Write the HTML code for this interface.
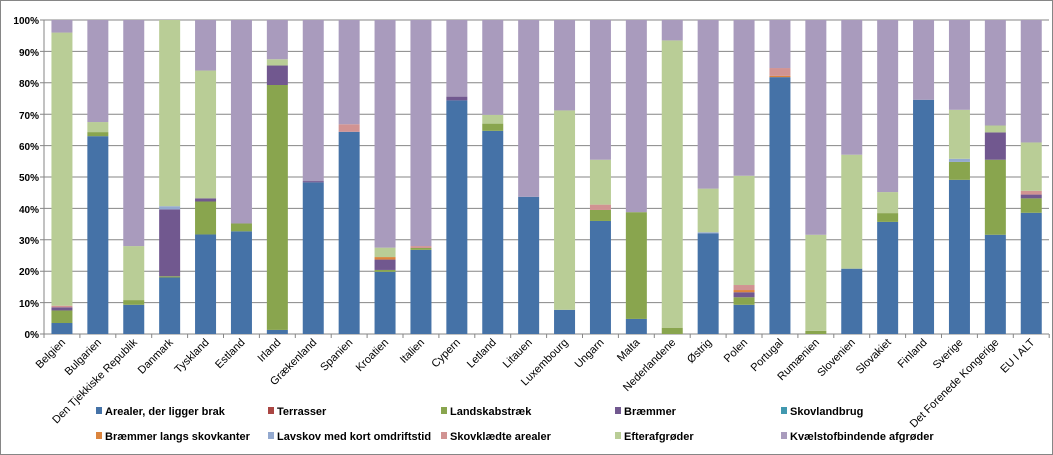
<!DOCTYPE html>
<html><head><meta charset="utf-8"><style>
body{margin:0;background:#fff}
svg{display:block}
text{font-family:"Liberation Sans",sans-serif}
</style></head><body>
<svg id="s" width="1053" height="455" xmlns="http://www.w3.org/2000/svg">
<rect x="0.5" y="0.5" width="1052" height="454" fill="#fff" stroke="#868686"/>
<g id="grid"></g>
<g id="bars"></g>
<g font-size="10" font-weight="bold" fill="#000" text-anchor="end">
<text x="39" y="338">0%</text><text x="39" y="307">10%</text><text x="39" y="275">20%</text><text x="39" y="244">30%</text><text x="39" y="213">40%</text><text x="39" y="181">50%</text><text x="39" y="150">60%</text><text x="39" y="119">70%</text><text x="39" y="87">80%</text><text x="39" y="56">90%</text><text x="39" y="24">100%</text>
</g>
<g id="cats" font-size="11" fill="#000" text-anchor="end">
<text>Belgien</text><text>Bulgarien</text><text>Den Tjekkiske Republik</text><text>Danmark</text><text>Tyskland</text><text>Estland</text><text>Irland</text><text>Grækenland</text><text>Spanien</text><text>Kroatien</text><text>Italien</text><text>Cypern</text><text>Letland</text><text>Litauen</text><text>Luxembourg</text><text>Ungarn</text><text>Malta</text><text>Nederlandene</text><text>Østrig</text><text>Polen</text><text>Portugal</text><text>Rumænien</text><text>Slovenien</text><text>Slovakiet</text><text>Finland</text><text>Sverige</text><text>Det Forenede Kongerige</text><text>EU I ALT</text>
</g>
<g font-size="11" font-weight="bold" fill="#000">
<rect x="96" y="407" width="6" height="7" fill="#4572A7"/><text x="105" y="415">Arealer, der ligger brak</text>
<rect x="268" y="407" width="6" height="7" fill="#AA4643"/><text x="277" y="415">Terrasser</text>
<rect x="441" y="407" width="6" height="7" fill="#89A54E"/><text x="450" y="415">Landskabstræk</text>
<rect x="615" y="407" width="6" height="7" fill="#71588F"/><text x="624" y="415">Bræmmer</text>
<rect x="781" y="407" width="6" height="7" fill="#4198AF"/><text x="790" y="415">Skovlandbrug</text>
<rect x="96" y="432" width="6" height="7" fill="#DB843D"/><text x="105" y="440">Bræmmer langs skovkanter</text>
<rect x="268" y="432" width="6" height="7" fill="#93A9CF"/><text x="277" y="440">Lavskov med kort omdriftstid</text>
<rect x="441" y="432" width="6" height="7" fill="#D19392"/><text x="450" y="440">Skovklædte arealer</text>
<rect x="615" y="432" width="6" height="7" fill="#B9CD96"/><text x="624" y="440">Efterafgrøder</text>
<rect x="781" y="432" width="6" height="7" fill="#A99BBD"/><text x="790" y="440">Kvælstofbindende afgrøder</text>
</g>
</svg>
<script>
var C=["#4572A7","#AA4643","#89A54E","#71588F","#4198AF","#DB843D","#93A9CF","#D19392","#B9CD96","#A99BBD"];
var D=[
[[0,3.5],[2,7.5],[3,8.5],[7,9],[8,96]],
[[0,63],[2,64.3],[8,67.5]],
[[0,9.3],[2,10.8],[8,28]],
[[0,18],[2,18.4],[3,39.7],[6,40.7],[8,100]],
[[0,31.7],[2,42.2],[3,43.2],[8,83.9]],
[[0,32.7],[2,35.2]],
[[0,1.3],[2,79.3],[3,85.5],[8,87.5]],
[[0,48.3],[3,48.7]],
[[0,64.4],[7,66.8]],
[[0,19.8],[2,20.4],[3,23.7],[5,24.5],[8,27.5]],
[[0,26.8],[2,27.4],[7,28]],
[[0,74.4],[3,75.6]],
[[0,64.7],[2,67],[8,69.8]],
[[0,43.7]],
[[0,7.7],[8,71.2]],
[[0,36],[2,39.5],[7,41.2],[8,55.5]],
[[0,4.8],[2,38.8]],
[[2,2],[8,93.5]],
[[0,32],[6,32.4],[8,46.3]],
[[0,9.3],[2,11.7],[3,13.3],[5,14],[7,15.6],[8,50.4]],
[[0,81.8],[5,82.2],[7,84.7]],
[[2,1],[8,31.6]],
[[0,20.8],[8,57.1]],
[[0,35.7],[2,38.5],[8,45.2]],
[[0,74.6]],
[[0,49.1],[2,54.8],[6,55.8],[8,71.4]],
[[0,31.6],[2,55.5],[3,64.2],[8,66.4]],
[[0,38.6],[2,43.2],[3,44.4],[7,45.6],[8,61]]
];
var ns="http://www.w3.org/2000/svg",X0=44,W=35.9,Y0=334,H=314;
function el(p,t,a){var e=document.createElementNS(ns,t);for(var k in a)e.setAttribute(k,a[k]);p.appendChild(e);return e;}
var g=document.getElementById("grid"),b=document.getElementById("bars");
for(var i=0;i<=10;i++){var y=Y0-H*i/10;el(g,"line",{x1:X0-4,x2:1049,y1:y,y2:y,stroke:"#868686","stroke-width":1});}
el(g,"line",{x1:X0,x2:X0,y1:20,y2:Y0,stroke:"#868686"});
for(i=0;i<=28;i++){var x=X0+W*i;el(g,"line",{x1:x,x2:x,y1:Y0,y2:Y0+4,stroke:"#868686"});}
D.forEach(function(d,i){var cx=X0+W*(i+0.5),prev=0;d.push([9,100]);d.forEach(function(s){var t=s[1];if(t>prev){el(b,"rect",{x:cx-10.5,width:21,y:Y0-H*t/100,height:H*(t-prev)/100,fill:C[s[0]]});prev=t;}});});
var ts=document.getElementById("cats").children;
for(i=0;i<ts.length;i++){var cx=X0+W*(i+0.5)+4,y=343;ts[i].setAttribute("transform","translate("+cx+","+y+") rotate(-45)");}
</script>
</body></html>
